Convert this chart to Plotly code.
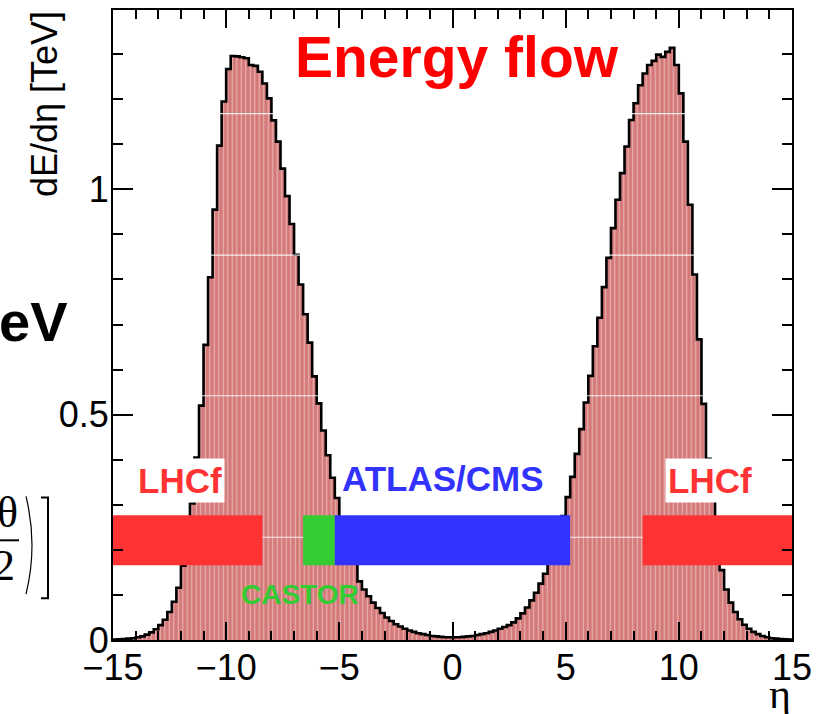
import plotly.graph_objects as go

# ---------------- data ----------------
eta_min, eta_max, bin_width = -15.0, 15.0, 0.2

# dE/deta [TeV] per 0.2-wide eta bin, from eta=-15 to eta=+15 (150 bins)
energy_left = [
    0.001, 0.0015, 0.002, 0.003, 0.004, 0.006, 0.008, 0.012, 0.017, 0.024,
    0.033, 0.045, 0.062, 0.085, 0.116, 0.165, 0.225, 0.303, 0.405, 0.52,
    0.655, 0.805, 0.955, 1.097, 1.195, 1.267, 1.296, 1.295, 1.293, 1.291,
    1.276, 1.274, 1.261, 1.235, 1.202, 1.153, 1.106, 1.046, 0.985, 0.923,
    0.855, 0.789, 0.723, 0.66, 0.585, 0.525, 0.465, 0.41, 0.36, 0.315,
    0.27, 0.235, 0.20, 0.17, 0.13, 0.112, 0.097, 0.083, 0.071, 0.06,
    0.05, 0.042, 0.035, 0.03, 0.025, 0.021, 0.018, 0.015, 0.013, 0.011,
    0.009, 0.008, 0.007, 0.006, 0.006,
]
energy_right = [
    0.006, 0.006, 0.007, 0.008, 0.009, 0.011, 0.013, 0.015, 0.018, 0.021,
    0.025, 0.029, 0.033, 0.039, 0.048, 0.059, 0.072, 0.088, 0.105, 0.125,
    0.147, 0.18, 0.21, 0.245, 0.275, 0.317, 0.362, 0.413, 0.468, 0.527,
    0.586, 0.652, 0.715, 0.783, 0.848, 0.914, 0.977, 1.036, 1.095, 1.154,
    1.191, 1.231, 1.257, 1.276, 1.285, 1.299, 1.294, 1.305, 1.314, 1.276,
    1.213, 1.106, 0.966, 0.811, 0.667, 0.524, 0.402, 0.31, 0.22, 0.155,
    0.112, 0.083, 0.062, 0.046, 0.034, 0.025, 0.018, 0.013, 0.009, 0.006,
    0.004, 0.003, 0.002, 0.0015, 0.001,
]
energy = energy_left + energy_right

# detector acceptance bands (eta ranges)
det_names = ["LHCf", "CASTOR", "ATLAS/CMS", "LHCf"]
det_eta_lo = [-15.0, -6.6, -5.2, 8.4]
det_eta_hi = [-8.4, -5.2, 5.2, 15.0]
band_lo, band_hi = 0.166, 0.277

x_ticks = [-15, -10, -5, 0, 5, 10, 15]
y_ticks = [0, 0.5, 1]

# ---------------- styles ----------------
det_colors = {"LHCf": "#ff3333", "CASTOR": "#33cc33", "ATLAS/CMS": "#3333ff"}
W, H = 831, 714
L, R, T, B = 113, 39, 8, 74
PW, PH = W - L - R, H - T - B


def px(xp):
    return (xp - L) / PW


def py(yp):
    return (H - B - yp) / PH


n = len(energy)
edges = [eta_min + i * bin_width for i in range(n + 1)]
hist_x = edges
hist_y = energy + [energy[-1]]

fig = go.Figure()

fig.add_trace(go.Scatter(
    x=hist_x, y=hist_y, mode="lines", line_shape="hv",
    line=dict(color="black", width=2.6),
    fill="tozeroy",
    fillcolor="rgb(214,124,124)",
    fillpattern=dict(shape="|", bgcolor="rgb(212,120,120)",
                     fgcolor="rgb(252,232,232)", size=4.5, solidity=0.28),
    hoverinfo="skip",
))

# faint white scan lines seen through the fill
for v in [1.168, 0.854, 0.542, 0.228]:
    fig.add_trace(go.Scatter(x=[eta_min, eta_max], y=[v, v], mode="lines",
                             line=dict(color="rgba(255,255,255,0.85)", width=1.2),
                             hoverinfo="skip"))

for name, lo, hi in zip(det_names, det_eta_lo, det_eta_hi):
    fig.add_trace(go.Scatter(
        x=[lo, hi, hi, lo, lo], y=[band_lo, band_lo, band_hi, band_hi, band_lo],
        mode="lines", fill="toself", fillcolor=det_colors[name],
        line=dict(width=0, color=det_colors[name]), hoverinfo="skip",
    ))

axis_font = dict(family="Liberation Sans, Arial", size=36, color="black")

fig.update_xaxes(
    range=[eta_min, eta_max], tickmode="array", tickvals=x_ticks,
    showline=True, linecolor="black", linewidth=2, mirror="ticks",
    ticks="inside", ticklen=18, tickwidth=1.5, tickcolor="black",
    minor=dict(dtick=1, tick0=0, ticks="inside", ticklen=9, tickwidth=1.5, tickcolor="black"),
    showgrid=False, zeroline=False, tickfont=axis_font, ticklabelstandoff=-5,
)
fig.update_yaxes(
    range=[0, 1.398], tickmode="array", tickvals=y_ticks,
    showline=True, linecolor="black", linewidth=2, mirror="ticks",
    ticks="inside", ticklen=20, tickwidth=1.5, tickcolor="black",
    minor=dict(dtick=0.1, tick0=0, ticks="inside", ticklen=10, tickwidth=1.5, tickcolor="black"),
    showgrid=False, zeroline=False, tickfont=axis_font, ticklabelstandoff=-5,
)

ann = []
ann.append(dict(text="dE/dη [TeV]", textangle=-90, xref="paper", yref="paper",
                x=px(44), y=py(7), xanchor="center", yanchor="top",
                showarrow=False, font=axis_font))
ann.append(dict(text="η", xref="paper", yref="paper", x=px(793), y=py(694),
                xanchor="right", yanchor="middle", showarrow=False,
                font=dict(family="Liberation Serif", size=42, color="black")))
ann.append(dict(text="<b>Energy flow</b>", xref="paper", yref="paper",
                x=px(457), y=py(55), xanchor="center", yanchor="middle",
                showarrow=False, font=dict(family="Liberation Sans", size=57, color="#ff0000")))
label_font = dict(family="Liberation Sans", size=35)
ann.append(dict(text="<b>LHCf</b>", xref="paper", yref="paper", x=px(180), y=py(480),
                xanchor="center", yanchor="middle", showarrow=False, bgcolor="white",
                borderpad=2, font=dict(label_font, color=det_colors["LHCf"])))
ann.append(dict(text="<b>LHCf</b>", xref="paper", yref="paper", x=px(710), y=py(480),
                xanchor="center", yanchor="middle", showarrow=False, bgcolor="white",
                borderpad=2, font=dict(label_font, color=det_colors["LHCf"])))
ann.append(dict(text="<b>ATLAS/CMS</b>", xref="paper", yref="paper", x=px(443), y=py(478),
                xanchor="center", yanchor="middle", showarrow=False,
                font=dict(label_font, color=det_colors["ATLAS/CMS"])))
ann.append(dict(text="<b>CASTOR</b>", xref="paper", yref="paper", x=px(300), y=py(594),
                xanchor="center", yanchor="middle", showarrow=False,
                font=dict(family="Liberation Sans", size=28, color=det_colors["CASTOR"])))
# cropped slide text at the left edge
ann.append(dict(text="<b>eV</b>", xref="paper", yref="paper", x=px(-3), y=py(320),
                xanchor="left", yanchor="middle", showarrow=False,
                font=dict(family="Liberation Sans", size=56, color="black")))
serif = dict(family="Liberation Serif", size=44, color="black")
ann.append(dict(text="θ", xref="paper", yref="paper", x=px(20), y=py(512),
                xanchor="right", yanchor="middle", showarrow=False, font=serif))
ann.append(dict(text="2", xref="paper", yref="paper", x=px(17), y=py(565),
                xanchor="right", yanchor="middle", showarrow=False, font=serif))

shapes = [
    dict(type="line", xref="paper", yref="paper", x0=px(0), x1=px(19), y0=py(540), y1=py(540),
         line=dict(color="black", width=2)),
    dict(type="path", xref="paper", yref="paper",
         path=f"M {px(26)},{py(496)} Q {px(38)},{py(545)} {px(26)},{py(594)}",
         line=dict(color="black", width=1.2)),
    dict(type="path", xref="paper", yref="paper",
         path=(f"M {px(41)},{py(497)} L {px(48)},{py(497)} L {px(48)},{py(598)} "
               f"L {px(41)},{py(598)}"),
         line=dict(color="black", width=2)),
]

fig.update_layout(
    width=W, height=H, margin=dict(l=L, r=R, t=T, b=B, pad=0),
    paper_bgcolor="white", plot_bgcolor="white", showlegend=False,
    annotations=ann, shapes=shapes,
)

fig.write_html("out.html")
